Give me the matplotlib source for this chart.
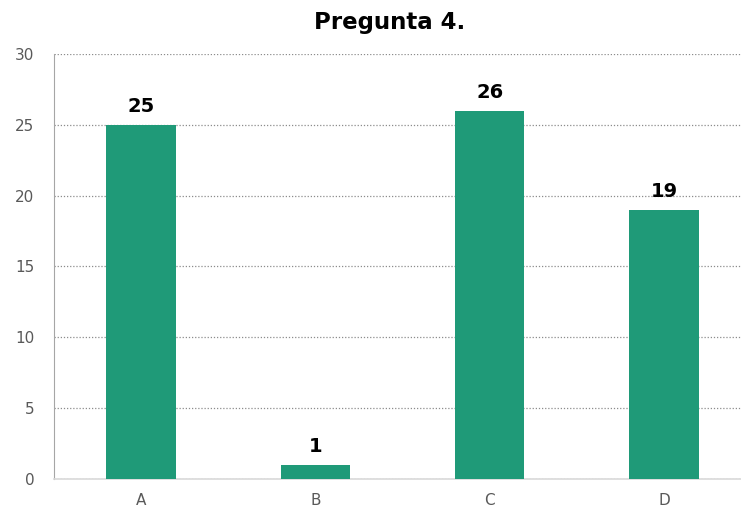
import matplotlib.pyplot as plt

plt.rcParams['font.family'] = ['DejaVu Sans']

# datos
categorias = ['A', 'B', 'C', 'D']
valores = [25, 1, 26, 19]
yticks = [0, 5, 10, 15, 20, 25, 30]

fig = plt.figure(figsize=(7.41, 5.08), dpi=100)
ax = fig.add_axes([0.0729, 0.0571, 0.9406, 0.8366])

x = range(len(categorias))
barras = ax.bar(x, valores, width=0.4, color='#1f9a78', zorder=3)

for xi, v in zip(x, valores):
    ax.text(xi, v + 0.6, str(v), ha='center', va='bottom',
            fontsize=14, fontweight='bold', color='black')

ax.set_xlim(-0.5, 3.5)
ax.set_ylim(0, 30)
ax.set_yticks(yticks)
ax.set_xticks(list(x))
ax.set_xticklabels(categorias)
ax.tick_params(axis='both', length=0, labelsize=11, colors='#595959')
ax.tick_params(axis='x', pad=10)
ax.tick_params(axis='y', pad=14)

ax.grid(axis='y', linestyle=(0, (1, 1.5)), color='#8c8c8c', linewidth=0.9, zorder=0)
for s in ['top', 'right']:
    ax.spines[s].set_visible(False)
ax.spines['left'].set_color('#a6a6a6')
ax.spines['bottom'].set_color('#d9d9d9')
ax.spines['bottom'].set_linewidth(1.2)

fig.text(0.526, 0.955, 'Pregunta 4.', ha='center', va='center',
         fontsize=16.5, fontweight='bold')

fig.savefig('out.png', dpi=100)
